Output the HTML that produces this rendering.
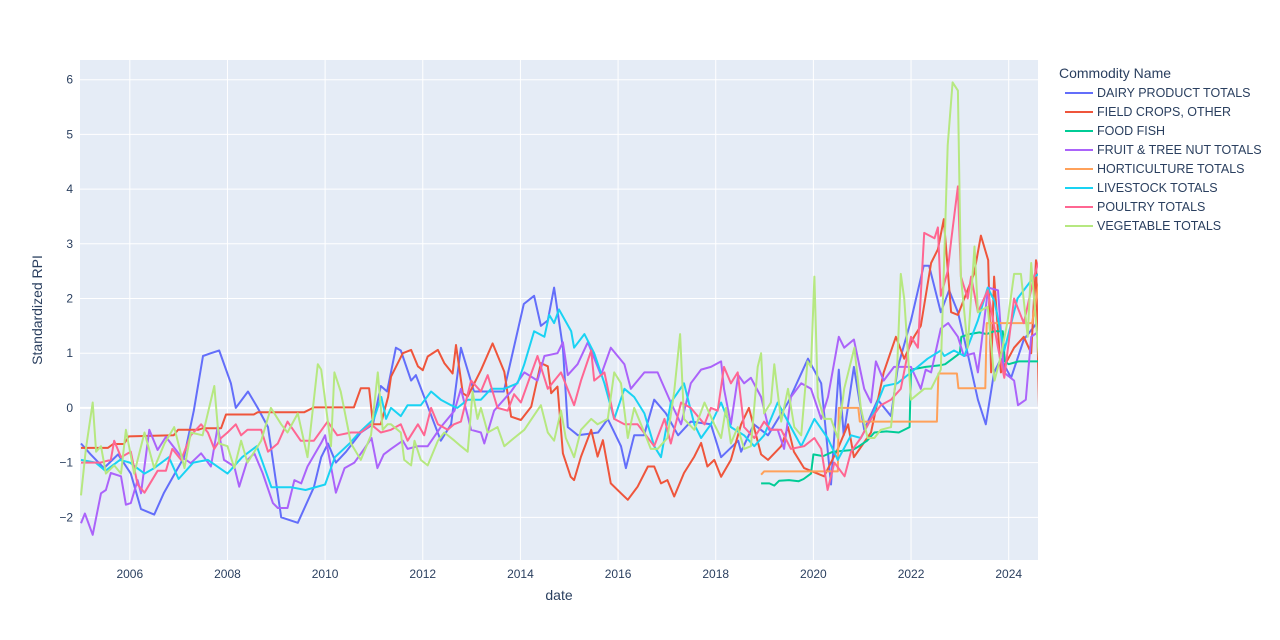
<!DOCTYPE html>
<html><head><meta charset="utf-8">
<style>
body{margin:0;background:#fff;}
svg{display:block;font-family:"Liberation Sans",Arial,sans-serif;}
</style></head>
<body>
<svg id="chart" width="1280" height="640">
<rect x="0" y="0" width="1280" height="640" fill="#fff"/>
<rect x="80" y="60" width="958" height="500" fill="#e5ecf6"/>
<g id="grid"></g>
<defs><clipPath id="clip"><rect x="80" y="60" width="958" height="500"/></clipPath></defs>
<g id="series" clip-path="url(#clip)"></g>
<g id="ticks"></g>
<text x="559" y="600" text-anchor="middle" font-size="14" fill="#2a3f5f">date</text>
<text transform="translate(42,310) rotate(-90)" text-anchor="middle" font-size="14" fill="#2a3f5f">Standardized RPI</text>
<g id="legend">
<text x="1059" y="78" font-size="14" fill="#2a3f5f">Commodity Name</text>
</g>
</svg>
<script>
const yTicks=[-2,-1,0,1,2,3,4,5,6];
const xTicks=[2006,2008,2010,2012,2014,2016,2018,2020,2022,2024];
const seriesNames=["DAIRY PRODUCT TOTALS","FIELD CROPS, OTHER","FOOD FISH","FRUIT & TREE NUT TOTALS","HORTICULTURE TOTALS","LIVESTOCK TOTALS","POULTRY TOTALS","VEGETABLE TOTALS"];
const seriesColors=["#636efa","#ef553b","#00cc96","#ab63fa","#ffa15a","#19d3f3","#ff6692","#b6e880"];

const dairyDates=[2005.0,2005.2,2005.47,2005.76,2006.02,2006.23,2006.5,2006.7,2007.11,2007.31,2007.5,2007.66,2007.83,2008.07,2008.17,2008.42,2008.62,2008.83,2009.1,2009.44,2009.77,2009.92,2010.06,2010.22,2010.43,2010.73,2010.98,2011.14,2011.27,2011.45,2011.55,2011.76,2011.86,2012.37,2012.58,2012.78,2013.05,2013.4,2013.66,2014.07,2014.28,2014.42,2014.56,2014.69,2014.87,2014.97,2015.18,2015.59,2015.79,2016.06,2016.16,2016.33,2016.53,2016.74,2016.98,2017.23,2017.49,2017.9,2018.11,2018.46,2018.52,2018.78,2019.07,2019.48,2019.89,2020.16,2020.36,2020.52,2020.62,2020.83,2021.04,2021.32,2021.59,2021.73,2022.0,2022.26,2022.37,2022.61,2022.78,2022.96,2023.17,2023.37,2023.53,2023.7,2023.84,2024.05,2024.31,2024.62];
const dairyVals=[-0.65,-0.85,-1.1,-0.85,-1.2,-1.85,-1.95,-1.55,-0.9,-0.05,0.95,1.0,1.05,0.45,0.0,0.3,0.0,-0.35,-2.0,-2.1,-1.45,-0.9,-0.65,-1.0,-0.8,-0.45,-0.3,0.4,0.3,1.1,1.05,0.5,0.6,-0.6,-0.3,1.1,0.3,0.3,0.3,1.9,2.05,1.5,1.6,2.2,1.1,-0.35,-0.5,-0.45,-0.2,-0.7,-1.1,-0.5,-0.5,0.15,-0.1,-0.5,-0.25,-0.3,-0.9,-0.6,-0.8,-0.3,-0.5,0.1,0.9,0.45,-1.4,0.7,-0.5,0.75,-0.4,0.15,-0.15,0.75,1.6,2.6,2.6,1.75,2.15,1.75,0.95,0.15,-0.3,0.65,0.9,0.55,1.25,1.6];

const fieldDates=[2005.0,2005.55,2005.66,2005.88,2005.98,2006.9,2006.99,2007.4,2007.5,2007.87,2007.97,2008.54,2008.62,2009.57,2009.77,2010.59,2010.73,2010.9,2010.98,2011.14,2011.29,2011.35,2011.59,2011.76,2011.9,2012.0,2012.1,2012.31,2012.44,2012.61,2012.68,2012.82,2012.92,2013.19,2013.43,2013.67,2013.81,2014.01,2014.22,2014.42,2014.56,2014.63,2014.76,2014.87,2015.03,2015.1,2015.24,2015.45,2015.58,2015.69,2015.85,2016.06,2016.2,2016.4,2016.61,2016.74,2016.88,2017.01,2017.15,2017.35,2017.56,2017.7,2017.83,2017.97,2018.11,2018.31,2018.52,2018.68,2018.93,2019.07,2019.34,2019.48,2019.6,2019.81,2020.22,2020.5,2020.71,2020.83,2021.18,2021.44,2021.69,2021.86,2022.06,2022.2,2022.41,2022.55,2022.67,2022.82,2022.96,2023.29,2023.43,2023.58,2023.64,2023.7,2023.84,2024.11,2024.31,2024.46,2024.56,2024.62];
const fieldVals=[-0.73,-0.73,-0.66,-0.66,-0.52,-0.5,-0.4,-0.4,-0.37,-0.37,-0.12,-0.12,-0.08,-0.08,0.01,0.01,0.36,0.36,-0.3,-0.3,0.2,0.57,1.0,1.06,0.76,0.69,0.94,1.06,0.82,0.63,1.15,0.27,0.21,0.69,1.18,0.66,-0.16,-0.22,0.02,0.82,0.76,0.27,0.39,-0.83,-1.26,-1.32,-0.89,-0.4,-0.89,-0.59,-1.38,-1.56,-1.68,-1.44,-1.07,-1.07,-1.38,-1.32,-1.62,-1.19,-0.89,-0.64,-1.07,-0.95,-1.26,-0.95,-0.3,0.0,-0.85,-0.95,-0.7,-0.35,-0.8,-1.1,-1.25,-0.75,-0.3,-0.9,-0.45,0.65,1.3,0.9,1.3,1.5,2.65,2.9,3.45,1.75,1.7,2.45,3.15,2.7,0.65,2.4,0.65,1.1,1.3,1.0,2.7,0.0];

const fishDates=[2018.93,2019.1,2019.2,2019.3,2019.5,2019.7,2019.8,2019.95,2020.0,2020.2,2020.4,2020.8,2020.9,2021.1,2021.25,2021.5,2021.75,2021.97,2022.0,2022.3,2022.6,2022.7,2022.85,2023.0,2023.03,2023.2,2023.4,2023.55,2023.7,2023.88,2023.92,2024.0,2024.2,2024.62];
const fishVals=[-1.38,-1.38,-1.42,-1.33,-1.32,-1.34,-1.3,-1.2,-0.85,-0.88,-0.8,-0.77,-0.72,-0.6,-0.45,-0.43,-0.45,-0.35,0.7,0.75,0.78,0.8,0.9,1.0,1.3,1.35,1.38,1.35,1.4,1.4,0.85,0.8,0.85,0.85];

const fruitDates=[2005.0,2005.08,2005.24,2005.41,2005.51,2005.61,2005.82,2005.92,2006.02,2006.16,2006.23,2006.4,2006.57,2006.74,2007.05,2007.25,2007.46,2007.66,2007.8,2007.93,2008.14,2008.24,2008.41,2008.55,2008.72,2008.93,2009.03,2009.23,2009.37,2009.51,2009.64,2009.92,2010.0,2010.22,2010.4,2010.6,2010.8,2010.95,2011.07,2011.2,2011.35,2011.59,2011.69,2011.9,2012.1,2012.37,2012.65,2012.78,2012.99,2013.19,2013.26,2013.46,2013.81,2014.08,2014.35,2014.49,2014.76,2014.87,2014.97,2015.17,2015.38,2015.65,2015.85,2016.13,2016.26,2016.54,2016.81,2017.08,2017.29,2017.49,2017.7,2017.9,2018.11,2018.17,2018.31,2018.46,2018.58,2018.72,2018.93,2019.09,2019.27,2019.4,2019.54,2019.75,2019.95,2020.16,2020.3,2020.52,2020.63,2020.83,2021.04,2021.18,2021.28,2021.44,2021.65,2022.0,2022.2,2022.3,2022.41,2022.61,2022.76,2022.96,2023.08,2023.29,2023.37,2023.58,2023.78,2023.9,2024.11,2024.19,2024.35,2024.46,2024.62];
const fruitVals=[-2.11,-1.93,-2.32,-1.56,-1.5,-1.19,-1.25,-1.77,-1.74,-1.32,-1.56,-0.4,-0.77,-0.53,-0.89,-1.01,-0.83,-1.07,-0.34,-0.95,-1.07,-1.44,-0.95,-0.83,-1.19,-1.74,-1.83,-1.83,-1.32,-1.38,-1.07,-0.64,-0.5,-1.55,-1.1,-1.0,-0.75,-0.55,-1.1,-0.85,-0.75,-0.6,-0.75,-0.7,-0.7,-0.35,-0.05,0.35,-0.4,-0.45,-0.65,-0.05,0.3,0.65,0.5,0.95,1.0,1.2,0.6,0.8,1.2,0.6,1.1,0.8,0.35,0.65,0.65,0.1,-0.3,0.45,0.7,0.75,0.85,0.35,-0.3,0.6,0.45,0.55,0.2,-0.4,-0.4,-0.75,0.2,0.45,0.35,-0.2,0.2,1.3,1.1,1.25,0.35,0.1,0.85,0.5,0.75,0.75,0.35,0.7,0.65,1.45,1.55,1.3,0.95,1.0,0.65,2.2,2.15,0.65,0.5,0.05,0.15,1.3,1.4];

const hortDates=[2018.93,2018.99,2020.5,2020.52,2020.92,2020.95,2022.53,2022.56,2022.94,2022.97,2023.52,2023.55,2024.48,2024.62];
const hortVals=[-1.22,-1.16,-1.16,0.0,0.0,-0.25,-0.25,0.63,0.63,0.36,0.36,1.55,1.55,2.3];

const liveDates=[2005.0,2005.3,2005.5,2005.8,2006.0,2006.3,2006.5,2006.8,2007.0,2007.3,2007.6,2008.0,2008.3,2008.6,2008.9,2009.3,2009.6,2010.0,2010.2,2010.5,2010.7,2011.0,2011.15,2011.25,2011.35,2011.55,2011.69,2011.96,2012.17,2012.37,2012.58,2012.71,2012.92,2013.19,2013.4,2013.67,2013.94,2014.08,2014.28,2014.49,2014.59,2014.69,2014.79,2015.04,2015.1,2015.31,2015.51,2015.72,2015.92,2016.13,2016.33,2016.54,2016.74,2016.88,2017.08,2017.35,2017.56,2017.7,2017.9,2018.11,2018.31,2018.58,2018.79,2018.99,2019.27,2019.54,2019.75,2020.02,2020.29,2020.5,2020.77,2020.97,2021.18,2021.45,2021.72,2022.0,2022.34,2022.61,2022.68,2022.88,2023.09,2023.37,2023.57,2023.71,2023.91,2024.18,2024.52,2024.62];
const liveVals=[-0.95,-1.0,-1.15,-0.95,-1.0,-1.2,-1.1,-0.9,-1.3,-1.0,-0.95,-1.2,-0.9,-0.7,-1.45,-1.45,-1.5,-1.4,-0.9,-0.65,-0.45,-0.2,0.2,-0.2,0.0,-0.15,0.05,0.05,0.3,0.15,0.05,0.0,0.15,0.15,0.35,0.35,0.45,0.8,1.4,1.3,1.7,1.55,1.8,1.4,1.1,1.35,1.0,0.45,-0.2,0.35,0.2,-0.1,-0.7,-0.9,0.1,0.45,-0.3,-0.55,-0.3,0.1,-0.35,-0.5,-0.7,-0.5,0.1,-0.35,-0.7,-0.2,-0.55,-0.95,-0.5,-0.55,-0.2,0.4,0.45,0.65,0.9,1.05,0.95,1.05,0.95,1.6,2.2,1.95,1.05,2.0,2.4,2.45];

const poultryDates=[2005.0,2005.4,2005.61,2005.68,2005.82,2006.02,2006.16,2006.3,2006.57,2006.74,2006.87,2007.05,2007.25,2007.46,2007.6,2007.73,2007.87,2008.0,2008.17,2008.28,2008.41,2008.69,2008.83,2009.03,2009.23,2009.5,2009.77,2010.05,2010.25,2010.53,2010.73,2010.94,2011.14,2011.35,2011.55,2011.69,2011.9,2012.03,2012.17,2012.31,2012.51,2012.64,2012.78,2012.99,2013.19,2013.33,2013.53,2013.74,2013.87,2014.01,2014.35,2014.56,2014.83,2015.1,2015.24,2015.45,2015.51,2015.72,2015.92,2016.13,2016.4,2016.74,2016.95,2017.08,2017.29,2017.49,2017.77,2017.9,2018.04,2018.17,2018.31,2018.45,2018.58,2018.79,2018.99,2019.13,2019.34,2019.54,2019.81,2020.02,2020.16,2020.29,2020.43,2020.64,2020.77,2020.97,2021.18,2021.38,2021.59,2021.79,2022.0,2022.14,2022.27,2022.48,2022.55,2022.61,2022.75,2022.82,2022.96,2023.02,2023.16,2023.23,2023.37,2023.57,2023.78,2023.91,2024.11,2024.31,2024.52,2024.62];
const poultryVals=[-1.0,-1.0,-0.95,-0.6,-0.9,-0.8,-1.4,-1.55,-1.15,-1.15,-0.75,-0.95,-0.5,-0.3,-0.45,-0.75,-0.55,-0.45,-0.3,-0.5,-0.4,-0.4,-0.8,-0.65,-0.25,-0.6,-0.6,-0.25,-0.5,-0.45,-0.45,-0.3,-0.45,-0.4,-0.3,-0.6,-0.3,-0.5,0.0,-0.3,-0.4,-0.3,-0.25,0.5,0.3,0.6,0.0,-0.05,0.25,0.1,0.95,0.35,0.65,0.05,0.5,1.05,0.5,0.65,-0.2,-0.3,-0.3,-0.7,-0.2,-0.65,0.1,0.0,-0.3,0.0,-0.05,0.75,0.45,0.65,-0.35,-0.55,-0.25,-0.4,-0.4,-0.75,-0.7,-0.55,-0.75,-1.5,-1.0,-1.25,-0.8,-0.55,-0.2,0.05,0.15,0.35,1.3,1.1,3.2,3.1,3.3,2.05,2.5,3.05,4.05,2.4,2.0,2.4,1.75,2.15,1.1,0.55,2.0,1.55,2.4,2.7];

const vegDates=[2005.0,2005.1,2005.24,2005.31,2005.41,2005.51,2005.68,2005.82,2005.92,2006.09,2006.3,2006.5,2006.71,2006.91,2007.12,2007.25,2007.49,2007.73,2007.83,2008.0,2008.14,2008.28,2008.41,2008.69,2008.89,2009.1,2009.23,2009.44,2009.64,2009.85,2009.92,2010.12,2010.19,2010.32,2010.53,2010.73,2010.94,2011.08,2011.18,2011.28,2011.35,2011.55,2011.62,2011.76,2011.83,2011.96,2012.1,2012.31,2012.44,2012.65,2012.78,2012.92,2013.02,2013.12,2013.19,2013.33,2013.53,2013.67,2013.87,2014.08,2014.42,2014.56,2014.69,2014.83,2014.93,2015.1,2015.24,2015.45,2015.58,2015.79,2015.92,2016.06,2016.2,2016.33,2016.54,2016.67,2016.81,2017.01,2017.15,2017.27,2017.35,2017.56,2017.77,2017.97,2018.11,2018.21,2018.31,2018.45,2018.58,2018.72,2018.86,2018.93,2018.99,2019.13,2019.2,2019.34,2019.48,2019.61,2019.75,2019.88,2019.95,2020.02,2020.09,2020.22,2020.36,2020.5,2020.63,2020.84,2020.97,2021.11,2021.25,2021.38,2021.59,2021.72,2021.79,2021.86,2022.0,2022.27,2022.41,2022.61,2022.75,2022.85,2022.96,2023.02,2023.16,2023.3,2023.37,2023.57,2023.71,2023.84,2023.98,2024.11,2024.25,2024.39,2024.46,2024.62];
const vegVals=[-1.6,-0.75,0.1,-0.8,-0.7,-1.2,-1.05,-1.2,-0.4,-1.2,-0.45,-1.1,-0.65,-0.35,-1.1,-0.45,-0.5,0.4,-0.65,-0.7,-1.1,-0.6,-1.0,-0.6,0.0,-0.3,-0.45,-0.1,-0.9,0.8,0.7,-0.7,0.65,0.3,-0.65,-0.95,-0.5,0.65,-0.4,-0.3,-0.3,-0.45,-0.95,-1.05,-0.6,-0.95,-1.05,-0.6,-0.45,-0.6,-0.7,-0.8,0.3,-0.2,0.0,-0.45,-0.35,-0.7,-0.55,-0.4,0.05,-0.45,-0.6,-0.05,-0.55,-0.9,-0.4,-0.2,-0.3,-0.2,0.65,0.45,-0.55,0.0,-0.45,-0.75,-0.75,-0.55,0.3,1.35,-0.2,-0.4,0.1,-0.3,-0.55,0.0,-0.65,-0.35,-0.75,-0.7,0.75,1.0,-0.1,0.1,0.8,-0.25,0.35,-0.35,-0.5,0.85,0.75,2.4,0.2,-0.2,-0.2,-0.55,0.35,1.1,0.0,-0.55,-0.55,-0.4,-0.35,0.85,2.45,2.0,0.15,0.35,0.35,0.7,4.8,5.95,5.8,2.4,1.1,2.95,1.75,1.85,0.5,0.95,1.6,2.45,2.45,1.3,2.65,0.9];

const allDates=[dairyDates,fieldDates,fishDates,fruitDates,hortDates,liveDates,poultryDates,vegDates];
const allVals=[dairyVals,fieldVals,fishVals,fruitVals,hortVals,liveVals,poultryVals,vegVals];

const NS="http://www.w3.org/2000/svg";
const X0=80,X1=1038,Y0=60,Y1=560;
const xMin=2004.98,xMax=2024.6,yMin=-2.78,yMax=6.36;
function xs(v){return X0+(v-xMin)/(xMax-xMin)*(X1-X0);}
function ys(v){return Y1-(v-yMin)/(yMax-yMin)*(Y1-Y0);}
function mk(tag,attrs,parent){const e=document.createElementNS(NS,tag);for(const k in attrs)e.setAttribute(k,attrs[k]);parent.appendChild(e);return e;}

const grid=document.getElementById('grid');
const ticks=document.getElementById('ticks');
yTicks.forEach(t=>{
  const l=mk('line',{x1:X0,x2:X1,y1:ys(t),y2:ys(t),stroke:'#fff','stroke-width':t===0?2:1},grid);
  
  
  const tx=mk('text',{x:X0-7,y:ys(t)+4,'text-anchor':'end','font-size':12,fill:'#2a3f5f'},ticks);
  tx.textContent=t<0?'\u2212'+Math.abs(t):String(t);
  
  
});
xTicks.forEach(t=>{
  const l=mk('line',{x1:xs(t),x2:xs(t),y1:Y0,y2:Y1,stroke:'#fff','stroke-width':1},grid);
  
  
  const tx=mk('text',{x:xs(t),y:Y1+18,'text-anchor':'middle','font-size':12,fill:'#2a3f5f'},ticks);
  tx.textContent=String(t);
  
  
});

const sg=document.getElementById('series');
const lg=document.getElementById('legend');
seriesNames.forEach((name,i)=>{
  const d=allDates[i],v=allVals[i];
  let p='';
  for(let k=0;k<d.length;k++){p+=(k?'L':'M')+xs(d[k]).toFixed(1)+','+ys(v[k]).toFixed(1);}
  const path=mk('path',{d:p,fill:'none',stroke:seriesColors[i],'stroke-width':2,'stroke-linejoin':'round'},sg);
  
  
  const ly=97+i*19;
  const g=mk('g',{},lg);
  
  
  mk('line',{x1:1065,x2:1093,y1:ly-4,y2:ly-4,stroke:seriesColors[i],'stroke-width':2},g);
  const tx=mk('text',{x:1097,y:ly,'font-size':12.5,fill:'#2a3f5f'},g);
  tx.textContent=name;
});
</script>
</body></html>
